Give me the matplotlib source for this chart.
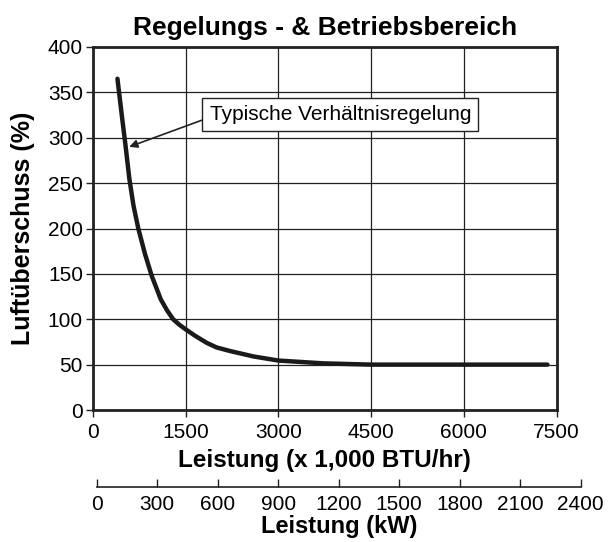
import matplotlib
matplotlib.use('Agg')
import matplotlib.pyplot as plt

plt.rcParams['font.family'] = ['Liberation Sans', 'DejaVu Sans']

# curve (x in 1,000 BTU/hr, y in %)
load_btu = [400, 470, 533, 592, 660, 737, 845, 953, 1100, 1200, 1300, 1400, 1500, 1650,
            1843, 2000, 2219, 2600, 3000, 3728, 4500, 6000, 7350]
excess_air = [365, 325, 290, 255, 225, 200, 172, 148, 122, 110, 100, 94, 89, 82,
              74, 69, 65, 59, 54.5, 51.4, 50, 50, 50]

btu_ticks = [0, 1500, 3000, 4500, 6000, 7500]
kw_ticks = [0, 300, 600, 900, 1200, 1500, 1800, 2100, 2400]
y_ticks = [0, 50, 100, 150, 200, 250, 300, 350, 400]

W, H = 613, 542
fig = plt.figure(figsize=(W / 100, H / 100), dpi=100)

left, right, top, bottom = 92.7, 556.7, 47, 410
ax = fig.add_axes([left / W, 1 - bottom / H, (right - left) / W, (bottom - top) / H])

ax.plot(load_btu, excess_air, color='#1a1a1a', lw=3.2, solid_capstyle='round',
        solid_joinstyle='round', zorder=3)

ax.set_xlim(0, 7500)
ax.set_ylim(0, 400)
ax.set_xticks(btu_ticks)
ax.set_yticks(y_ticks)
ax.grid(True, color='#222222', lw=0.9)
ax.set_axisbelow(True)
for s in ax.spines.values():
    s.set_linewidth(2.0)
    s.set_color('#222222')
ax.tick_params(axis='both', direction='out', length=5, width=1, labelsize=15, color='#222222')
ax.tick_params(axis='x', pad=4.5)
ax.tick_params(axis='y', pad=2)

ax.set_title('Regelungs - & Betriebsbereich', fontsize=19, fontweight='bold', pad=9)
ax.set_xlabel('Leistung (x 1,000 BTU/hr)', fontsize=17.5, fontweight='bold')
ax.xaxis.set_label_coords(0.5, (bottom - 449) / (bottom - top))
ax.set_ylabel('Luftüberschuss (%)', fontsize=18, fontweight='bold')
ax.yaxis.set_label_coords((35 - left) / (right - left), 0.5)

ax.annotate('Typische Verhältnisregelung', xy=(590, 290), xytext=(4003, 325.6),
            fontsize=15, ha='center', va='center',
            bbox=dict(boxstyle='square,pad=0.35', fc='white', ec='#222222', lw=1),
            arrowprops=dict(arrowstyle='-|>', color='#222222', lw=1.2,
                            mutation_scale=12, relpos=(0, 0.35), shrinkA=0, shrinkB=0),
            zorder=5)

# second scale in kW
k0, k1, ky = 96.7, 580.7, 487
ax2 = fig.add_axes([k0 / W, 1 - ky / H, (k1 - k0) / W, 0.0001])
ax2.set_xlim(0, 2400)
ax2.set_xticks(kw_ticks)
ax2.set_yticks([])
ax2.patch.set_visible(False)
for name in ['top', 'left', 'right']:
    ax2.spines[name].set_visible(False)
ax2.spines['bottom'].set_linewidth(1.2)
ax2.spines['bottom'].set_color('#222222')
ax2.tick_params(axis='x', direction='in', length=6, width=1, labelsize=15, pad=6,
                color='#222222')
ax2.set_xlabel('Leistung (kW)', fontsize=17, fontweight='bold', labelpad=0.5)

fig.savefig('out.png', dpi=100)
